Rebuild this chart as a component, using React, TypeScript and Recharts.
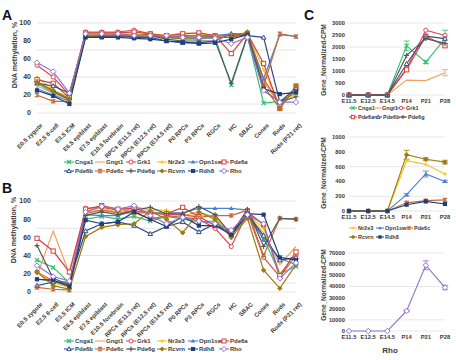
import React from "react";
import { LineChart, Line, XAxis, YAxis, CartesianGrid, ErrorBar } from "recharts";

const FONT = "'Liberation Sans', Arial, sans-serif";
const INK = "#3a3a3a";

// ---- categories
const stages = [
  "E0.5 zygote",
  "E2.5 8-cell",
  "E3.5 ICM",
  "E6.5 epiblast",
  "E7.5 epiblast",
  "E10.5 forebrain",
  "RPCs (E11.5 ret)",
  "RPCs (E12.5 ret)",
  "RPCs (E14.5 ret)",
  "P0 RPCs",
  "P3 RPCs",
  "RGCs",
  "HC",
  "SBAC",
  "Cones",
  "Rods",
  "Rods (P21 ret)",
];
const ages = ["E11.5", "E12.5", "E14.5", "P14", "P21", "P28"];

const methTicks = [0, 10, 20, 30, 40, 50, 60, 70, 80, 90, 100];
const c1Ticks = [0, 500, 1000, 1500, 2000, 2500, 3000];
const c2Ticks = [0, 200, 400, 600, 800, 1000];
const c3Ticks = [0, 10000, 20000, 30000, 40000, 50000, 60000, 70000];

// ---- panel A: DNA methylation (%)
const aCnga1 = [33, 22, 15, 86, 86, 86, 86, 87, 84, 82, 82, 84, 31, 85, 11, 13, 22];
const aGngt1 = [30, 22, 14, 87, 87, 87, 87, 87, 85, 85, 84, 85, 86, 88, 35, 8, 25];
const aGrk1 = [53, 40, 20, 90, 90, 90, 92, 88, 85, 86, 86, 84, 84, 88, 38, 10, 25];
const aNr2e3 = [40, 25, 18, 87, 88, 88, 88, 87, 86, 89, 88, 86, 87, 89, 48, 8, 22];
const aOpn1sw = [27, 20, 13, 85, 86, 86, 86, 86, 84, 84, 83, 86, 88, 88, 38, 87, 85];
const aPde6a = [37, 33, 17, 89, 89, 89, 90, 88, 86, 88, 89, 86, 66, 88, 55, 5, 30];
const aPde6b = [33, 30, 22, 85, 85, 86, 84, 84, 80, 78, 78, 80, 88, 86, 84, 12, 28];
const aPde6c = [20, 13, 13, 86, 86, 87, 86, 87, 85, 85, 86, 86, 86, 89, 30, 88, 85];
const aPde6g = [35, 24, 15, 85, 85, 85, 85, 86, 82, 80, 80, 80, 33, 86, 25, 12, 18];
const aRcvrn = [34, 25, 16, 85, 86, 86, 86, 87, 84, 83, 84, 84, 84, 90, 30, 5, 30];
const aRdh8 = [25, 19, 10, 84, 84, 84, 83, 82, 80, 79, 77, 78, 82, 87, 27, 21, 23];
const aRho = [56, 46, 22, 88, 88, 88, 86, 86, 86, 84, 84, 83, 77, 84, 25, 12, 12];

// ---- panel B: DNA methylation (%)
const bCnga1 = [35, 27, 10, 80, 83, 80, 83, 78, 83, 80, 77, 78, 62, 83, 59, 20, 28];
const bGngt1 = [18, 67, 20, 88, 90, 88, 92, 88, 86, 84, 88, 82, 64, 85, 65, 30, 50];
const bGrk1 = [22, 12, 8, 92, 93, 90, 88, 80, 84, 82, 80, 70, 50, 87, 38, 17, 40];
const bNr2e3 = [22, 10, 5, 89, 92, 88, 94, 90, 90, 83, 85, 82, 64, 85, 70, 20, 40];
const bOpn1sw = [14, 12, 6, 85, 84, 84, 89, 87, 87, 87, 92, 92, 92, 90, 57, 37, 30];
const bPde6a = [59, 45, 22, 91, 95, 91, 92, 86, 86, 93, 83, 73, 66, 88, 74, 18, 44];
const bPde6b = [7, 11, 11, 67, 75, 77, 73, 64, 72, 77, 66, 75, 63, 85, 62, 35, 38];
const bPde6c = [5, 3, 2, 86, 90, 87, 87, 87, 85, 85, 82, 84, 84, 90, 40, 81, 80];
const bPde6g = [51, 15, 8, 84, 88, 85, 90, 93, 86, 86, 94, 85, 63, 91, 50, 81, 80];
const bRcvrn = [22, 7, 3, 61, 71, 74, 75, 89, 80, 65, 88, 80, 60, 81, 24, 4, 30];
const bRdh8 = [14, 13, 6, 79, 75, 77, 88, 80, 72, 83, 73, 73, 63, 86, 85, 38, 35];
const bRho = [29, 17, 12, 88, 94, 91, 95, 84, 75, 82, 78, 75, 68, 85, 75, 15, 32];

// ---- panel C: expression (normalized CPM)
const cCnga1 = [0, 0, 0, 2050, 1370, 2350];
const cCnga1Err = [0, 0, 0, 200, 60, 350];
const cGngt1 = [0, 0, 0, 620, 600, 930];
const cGngt1Err = [0, 0, 0, 0, 0, 130];
const cGrk1 = [0, 0, 0, 1100, 2700, 2480];
const cPde6a = [0, 0, 0, 1050, 2450, 2050];
const cPde6b = [0, 0, 0, 1300, 2450, 2350];
const cPde6g = [0, 0, 0, 1650, 2350, 2150];

const cNr2e3 = [0, 0, 0, 680, 630, 500];
const cOpn1sw = [0, 0, 0, 220, 500, 400];
const cOpn1swErr = [0, 0, 0, 15, 40, 15];
const cPde6c = [0, 0, 0, 110, 140, 150];
const cRcvrn = [0, 0, 0, 760, 700, 660];
const cRcvrnErr = [0, 0, 0, 60, 20, 25];
const cRdh8 = [0, 0, 0, 85, 130, 95];

const cRho = [0, 0, 0, 18000, 59000, 39000];
const cRhoErr = [0, 0, 0, 800, 4000, 2000];

type Kind =
  | "x"
  | "none"
  | "circle"
  | "star"
  | "triFill"
  | "square"
  | "triOpen"
  | "asterisk"
  | "plus"
  | "diamond"
  | "squareFill"
  | "diamondOpen";

const look: Record<string, { color: string; kind: Kind }> = {
  Cnga1: { color: "#2fc06e", kind: "x" },
  Gngt1: { color: "#f0a35e", kind: "none" },
  Grk1: { color: "#e8474f", kind: "circle" },
  Nr2e3: { color: "#f5c518", kind: "star" },
  Opn1sw: { color: "#4a7fd0", kind: "triFill" },
  Pde6a: { color: "#d8403f", kind: "square" },
  Pde6b: { color: "#2f4a8c", kind: "triOpen" },
  Pde6c: { color: "#c46a3c", kind: "asterisk" },
  Pde6g: { color: "#555555", kind: "plus" },
  Rcvrn: { color: "#9d7b12", kind: "diamond" },
  Rdh8: { color: "#203f78", kind: "squareFill" },
  Rho: { color: "#9070cc", kind: "diamondOpen" },
};

const genesAB = ["Cnga1", "Gngt1", "Grk1", "Nr2e3", "Opn1sw", "Pde6a", "Pde6b", "Pde6c", "Pde6g", "Rcvrn", "Rdh8", "Rho"];

function buildRows(cats: string[], series: Record<string, number[]>) {
  return cats.map((c, i) => {
    const row: any = { cat: c };
    Object.keys(series).forEach((k) => (row[k] = series[k][i]));
    return row;
  });
}

const dataA = buildRows(stages, {
  Cnga1: aCnga1, Gngt1: aGngt1, Grk1: aGrk1, Nr2e3: aNr2e3, Opn1sw: aOpn1sw, Pde6a: aPde6a,
  Pde6b: aPde6b, Pde6c: aPde6c, Pde6g: aPde6g, Rcvrn: aRcvrn, Rdh8: aRdh8, Rho: aRho,
});
const dataB = buildRows(stages, {
  Cnga1: bCnga1, Gngt1: bGngt1, Grk1: bGrk1, Nr2e3: bNr2e3, Opn1sw: bOpn1sw, Pde6a: bPde6a,
  Pde6b: bPde6b, Pde6c: bPde6c, Pde6g: bPde6g, Rcvrn: bRcvrn, Rdh8: bRdh8, Rho: bRho,
});
const dataC1 = buildRows(ages, {
  Cnga1: cCnga1, Cnga1Err: cCnga1Err, Gngt1: cGngt1, Gngt1Err: cGngt1Err,
  Grk1: cGrk1, Pde6a: cPde6a, Pde6b: cPde6b, Pde6g: cPde6g,
});
const dataC2 = buildRows(ages, {
  Nr2e3: cNr2e3, Opn1sw: cOpn1sw, Opn1swErr: cOpn1swErr, Pde6c: cPde6c,
  Rcvrn: cRcvrn, RcvrnErr: cRcvrnErr, Rdh8: cRdh8,
});
const dataC3 = buildRows(ages, { Rho: cRho, RhoErr: cRhoErr });

function Mark({ kind, cx, cy, color, r = 2.4 }: { kind: Kind; cx: number; cy: number; color: string; r?: number }) {
  const sw = 1;
  switch (kind) {
    case "x":
      return <path d={`M${cx - r},${cy - r}L${cx + r},${cy + r}M${cx - r},${cy + r}L${cx + r},${cy - r}`} stroke={color} strokeWidth={1.2} fill="none" />;
    case "circle":
      return <circle cx={cx} cy={cy} r={r} fill="#fff" stroke={color} strokeWidth={sw} />;
    case "star": {
      const q = r * 0.35;
      return (
        <path
          d={`M${cx},${cy - r * 1.2}L${cx + q},${cy - q}L${cx + r * 1.2},${cy}L${cx + q},${cy + q}L${cx},${cy + r * 1.2}L${cx - q},${cy + q}L${cx - r * 1.2},${cy}L${cx - q},${cy - q}Z`}
          fill={color}
        />
      );
    }
    case "triFill":
      return <path d={`M${cx},${cy - r * 1.1}L${cx + r * 1.1},${cy + r * 0.8}L${cx - r * 1.1},${cy + r * 0.8}Z`} fill={color} />;
    case "triOpen":
      return <path d={`M${cx},${cy - r * 1.1}L${cx + r * 1.1},${cy + r * 0.8}L${cx - r * 1.1},${cy + r * 0.8}Z`} fill="#fff" stroke={color} strokeWidth={sw} />;
    case "square":
      return <rect x={cx - r} y={cy - r} width={r * 2} height={r * 2} fill="#fff" stroke={color} strokeWidth={sw} />;
    case "squareFill":
      return <rect x={cx - r} y={cy - r} width={r * 2} height={r * 2} fill={color} />;
    case "asterisk":
      return (
        <path
          d={`M${cx - r},${cy - r}L${cx + r},${cy + r}M${cx - r},${cy + r}L${cx + r},${cy - r}M${cx},${cy - r * 1.2}L${cx},${cy + r * 1.2}`}
          stroke={color}
          strokeWidth={1.1}
          fill="none"
        />
      );
    case "plus":
      return <path d={`M${cx - r * 1.2},${cy}L${cx + r * 1.2},${cy}M${cx},${cy - r * 1.2}L${cx},${cy + r * 1.2}`} stroke={color} strokeWidth={1.1} fill="none" />;
    case "diamond":
      return <path d={`M${cx},${cy - r * 1.3}L${cx + r * 1.3},${cy}L${cx},${cy + r * 1.3}L${cx - r * 1.3},${cy}Z`} fill={color} />;
    case "diamondOpen":
      return <path d={`M${cx},${cy - r * 1.3}L${cx + r * 1.3},${cy}L${cx},${cy + r * 1.3}L${cx - r * 1.3},${cy}Z`} fill="#fff" stroke={color} strokeWidth={sw} />;
    default:
      return null;
  }
}

function dotFor(gene: string, r = 2.4) {
  const { kind, color } = look[gene];
  if (kind === "none") return false;
  return (p: any) => (
    <g key={`${gene}-${p.index}`}>
      <Mark kind={kind} cx={p.cx} cy={p.cy} color={color} r={r} />
    </g>
  );
}

function SlantTick({ x, y, payload }: any) {
  return (
    <g transform={`translate(${x + 3},${y + 2}) rotate(-45)`}>
      <text x={0} y={0} dy={4} textAnchor="end" fontSize={6} fontWeight="bold" fill={INK} fontFamily={FONT}>
        {payload.value}
      </text>
    </g>
  );
}

const tickStyle = { fontSize: 7, fontWeight: "bold" as const, fill: INK, fontFamily: FONT };
const smallTick = { fontSize: 5.8, fontWeight: "bold" as const, fill: INK, fontFamily: FONT };

function MethPanel({ data, top, plotH }: { data: any[]; top: number; plotH: number }) {
  return (
    <div style={{ position: "absolute", left: 0, top }}>
      <LineChart width={300} height={23 + plotH + 37} data={data} margin={{ top: 23, right: 4, left: 12, bottom: 0 }}>
        <CartesianGrid vertical={false} stroke="#e4e4e4" />
        <XAxis dataKey="cat" interval={0} tick={<SlantTick />} tickLine={false} axisLine={false} height={37} />
        <YAxis domain={[0, 100]} ticks={methTicks} tickLine={false} axisLine={false} tickSize={0} tickMargin={6} width={25} tick={tickStyle} />
        {genesAB.map((g) => (
          <Line key={g} dataKey={g} stroke={look[g].color} strokeWidth={1.2} dot={dotFor(g, 2.1)} isAnimationActive={false} />
        ))}
      </LineChart>
    </div>
  );
}

function SmallPanel({
  data, top, plotTop, plotH, ticks, max, genes, errs,
}: {
  data: any[]; top: number; plotTop: number; plotH: number; ticks: number[]; max: number; genes: string[]; errs: Record<string, string>;
}) {
  return (
    <div style={{ position: "absolute", left: 300, top }}>
      <LineChart width={156} height={plotTop + plotH + 12} data={data} margin={{ top: plotTop, right: 11, left: 15, bottom: 0 }}>
        <CartesianGrid vertical={false} stroke="#e8e8e8" />
        <XAxis dataKey="cat" interval={0} tickLine={false} axisLine={false} tickSize={0} tickMargin={4} height={12} tick={smallTick} />
        <YAxis domain={[0, max]} ticks={ticks} tickLine={false} axisLine={false} tickSize={0} tickMargin={4} width={34} tick={smallTick} />
        {genes.map((g) => (
          <Line key={g} dataKey={g} stroke={look[g].color} strokeWidth={1.1} dot={dotFor(g, 2.1)} isAnimationActive={false}>
            {errs[g] ? <ErrorBar dataKey={errs[g]} width={3} stroke={look[g].color} strokeWidth={0.8} direction="y" isAnimationActive={false} /> : null}
          </Line>
        ))}
      </LineChart>
    </div>
  );
}

function LegendItem({ gene, x, y, size = 6, w = 10 }: { gene: string; x: number; y: number; size?: number; w?: number }) {
  const { color, kind } = look[gene];
  return (
    <div style={{ position: "absolute", left: x, top: y - 5, height: 10, display: "flex", alignItems: "center", whiteSpace: "nowrap" }}>
      <svg width={w} height={8} style={{ display: "block" }}>
        <line x1={0} x2={w} y1={4} y2={4} stroke={color} strokeWidth={1.1} />
        <Mark kind={kind} cx={w / 2} cy={4} color={color} r={w > 9 ? 2 : 1.7} />
      </svg>
      <span style={{ fontSize: size, fontWeight: "bold", color: INK, marginLeft: 1, fontFamily: FONT }}>{gene}</span>
    </div>
  );
}

function Legend12({ y1, y2 }: { y1: number; y2: number }) {
  return (
    <>
      {genesAB.map((g, i) => (
        <LegendItem key={g} gene={g} x={64 + (i % 6) * 31} y={i < 6 ? y1 : y2} />
      ))}
    </>
  );
}

function VTitle({ x, y, text, size }: { x: number; y: number; text: string; size: number }) {
  return (
    <div
      style={{
        position: "absolute",
        left: x,
        top: y,
        transform: "translate(-50%, -50%) rotate(-90deg)",
        fontSize: size,
        fontWeight: "bold",
        color: INK,
        whiteSpace: "nowrap",
        fontFamily: FONT,
      }}
    >
      {text}
    </div>
  );
}

function Letter({ x, y, t }: { x: number; y: number; t: string }) {
  return (
    <div style={{ position: "absolute", left: x, top: y, fontSize: 14, lineHeight: 1, fontWeight: "bold", color: "#111", fontFamily: FONT }}>{t}</div>
  );
}

export default function App() {
  return (
    <div style={{ position: "absolute", left: 0, top: 0, width: 456, height: 360, background: "#fff", overflow: "hidden", fontFamily: FONT }}>
      <style>{`.recharts-surface, .recharts-wrapper { overflow: visible !important; }`}</style>
      <Letter x={2} y={8} t="A" />
      <Letter x={2} y={181} t="B" />
      <Letter x={304} y={8} t="C" />

      <MethPanel data={dataA} top={0} plotH={90} />
      <VTitle x={14} y={55} text="DNA methylation, %" size={7} />
      <Legend12 y1={162} y2={171} />

      <MethPanel data={dataB} top={178} plotH={91} />
      <VTitle x={13} y={230} text="DNA methylation, %" size={7} />
      <Legend12 y1={341} y2={349} />

      <SmallPanel
        data={dataC1}
        top={0}
        plotTop={23}
        plotH={72}
        ticks={c1Ticks}
        max={3000}
        genes={["Cnga1", "Gngt1", "Grk1", "Pde6a", "Pde6b", "Pde6g"]}
        errs={{ Cnga1: "Cnga1Err", Gngt1: "Gngt1Err" }}
      />
      <VTitle x={323} y={60} text="Gene_Normalized-CPM" size={6.5} />
      <LegendItem gene="Cnga1" x={349} y={108} size={5.5} w={8} />
      <LegendItem gene="Gngt1" x={373} y={108} size={5.5} w={8} />
      <LegendItem gene="Grk1" x={397} y={108} size={5.5} w={8} />
      <LegendItem gene="Pde6a" x={349} y={117} size={5.5} w={8} />
      <LegendItem gene="Pde6b" x={374} y={117} size={5.5} w={8} />
      <LegendItem gene="Pde6g" x={399} y={117} size={5.5} w={8} />

      <SmallPanel
        data={dataC2}
        top={120}
        plotTop={17}
        plotH={74}
        ticks={c2Ticks}
        max={1000}
        genes={["Nr2e3", "Opn1sw", "Pde6c", "Rcvrn", "Rdh8"]}
        errs={{ Opn1sw: "Opn1swErr", Rcvrn: "RcvrnErr" }}
      />
      <VTitle x={323} y={173} text="Gene_Normalized-CPM" size={6.5} />
      <LegendItem gene="Nr2e3" x={349} y={228} size={5.5} w={8} />
      <LegendItem gene="Opn1sw" x={376} y={228} size={5.5} w={8} />
      <LegendItem gene="Pde6c" x={405} y={228} size={5.5} w={8} />
      <LegendItem gene="Rcvrn" x={349} y={237} size={5.5} w={8} />
      <LegendItem gene="Rdh8" x={376} y={237} size={5.5} w={8} />

      <SmallPanel data={dataC3} top={240} plotTop={13} plotH={78} ticks={c3Ticks} max={70000} genes={["Rho"]} errs={{ Rho: "RhoErr" }} />
      <VTitle x={323} y={285} text="Gene_Normalized-CPM" size={6.5} />
      <div style={{ position: "absolute", left: 390, top: 350, transform: "translate(-50%, -50%)", fontSize: 8, fontWeight: "bold", color: INK, fontFamily: FONT }}>
        Rho
      </div>
    </div>
  );
}
